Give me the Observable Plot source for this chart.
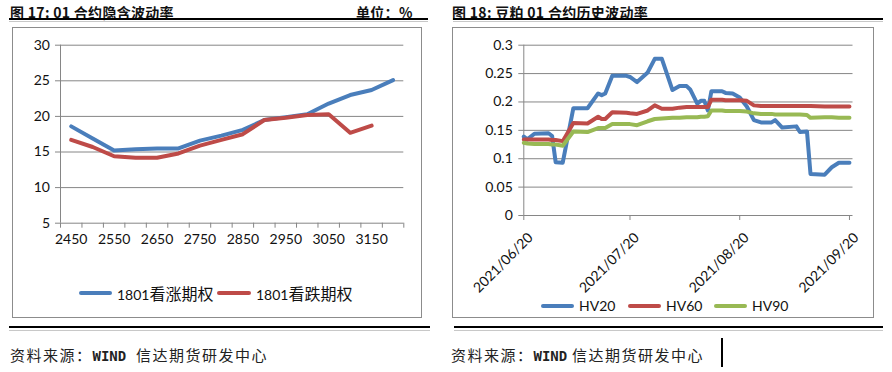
<!DOCTYPE html>
<html><head><meta charset="utf-8">
<script src="https://cdn.jsdelivr.net/npm/d3@7"></script>
<script src="https://cdn.jsdelivr.net/npm/@observablehq/plot@0.6"></script>
<style>
body{margin:0;background:#fff}
#page{position:relative;width:892px;height:372px;overflow:hidden;background:#fff;font-family:"Noto Sans CJK SC",sans-serif;color:#111}
.a{position:absolute;white-space:nowrap}
.title{font-size:14px;font-weight:bold;line-height:16px;top:4px;letter-spacing:0.3px}
.blk{background:#000;height:2px}
.gry{background:#c8c8c8;height:1px}
.box{border:1px solid #8c8c8c;box-sizing:border-box}
.sw{height:4px;border-radius:2px}
.lg{font-family:Lato,"Noto Sans CJK SC",sans-serif;font-size:14px;line-height:20px}
.lg .cj{font-size:16px;font-family:"Noto Sans CJK SC",sans-serif}
.foot{font-size:15px;letter-spacing:1.5px;line-height:20px;top:345px;color:#222}
.foot .m{font-family:"DejaVu Sans Mono",monospace;font-weight:bold;font-size:14px;letter-spacing:0}
</style></head><body>
<div id="page">
  <div class="a title" style="left:10px">图 17: 01 合约隐含波动率</div>
  <div class="a title" style="left:356px">单位：%</div>
  <div class="a blk" style="left:9px;top:18px;width:419px"></div>
  <div class="a gry" style="left:9px;top:21px;width:419px"></div>
  <div class="a box" style="left:12px;top:27px;width:410px;height:291px"></div>

  <div class="a title" style="left:452px">图 18: 豆粕 01 合约历史波动率</div>
  <div class="a blk" style="left:453px;top:18px;width:430px"></div>
  <div class="a gry" style="left:453px;top:21px;width:430px"></div>
  <div class="a box" style="left:452px;top:27px;width:422px;height:291px"></div>

  <div id="left" class="a" style="left:12px;top:27px"></div>
  <div id="right" class="a" style="left:452px;top:27px"></div>

  <div class="a sw" style="left:79px;top:291px;width:33px;background:#4A7EBB"></div>
  <div class="a lg" style="left:117px;top:283px">1801<span class="cj">看涨期权</span></div>
  <div class="a sw" style="left:217px;top:291px;width:34px;background:#BE4B48"></div>
  <div class="a lg" style="left:256px;top:283px">1801<span class="cj">看跌期权</span></div>

  <div class="a sw" style="left:541px;top:304px;width:33px;background:#4A7EBB"></div>
  <div class="a lg" style="left:579px;top:296px">HV20</div>
  <div class="a sw" style="left:628px;top:304px;width:33px;background:#BE4B48"></div>
  <div class="a lg" style="left:666px;top:296px">HV60</div>
  <div class="a sw" style="left:714px;top:304px;width:33px;background:#98B954"></div>
  <div class="a lg" style="left:752px;top:296px">HV90</div>

  <div class="a blk" style="left:9px;top:326px;width:421px"></div>
  <div class="a gry" style="left:9px;top:330px;width:421px"></div>
  <div class="a blk" style="left:454px;top:326px;width:429px"></div>
  <div class="a gry" style="left:454px;top:330px;width:429px"></div>

  <div class="a foot" style="left:10px">资料来源：<span class="m">WIND</span>&nbsp;&nbsp;信达期货研发中心</div>
  <div class="a foot" style="left:451px">资料来源：<span class="m">WIND</span>&nbsp;信达期货研发中心</div>
  <div class="a" style="left:721px;top:338px;width:2px;height:29px;background:#000"></div>
</div>
<script>
// ---- Figure 17 data ----
const strikes = [2450,2500,2550,2600,2650,2700,2750,2800,2850,2900,2950,3000,3050,3100,3150,3200];
const callIV = [18.6,16.9,15.2,15.4,15.5,15.5,16.6,17.3,18.1,19.5,19.9,20.3,21.8,23.0,23.7,25.1];
const putIV  = [16.7,15.7,14.4,14.2,14.2,14.8,15.9,16.7,17.5,19.5,19.8,20.2,20.3,17.7,18.7,null];
const leftYTicks = [5,10,15,20,25,30];
const strikeLabels = [2450,2550,2650,2750,2850,2950,3050,3150];

// ---- Figure 18 data ----
const hvDates = ["2021-06-20","2021-06-21","2021-06-23","2021-06-27","2021-06-28","2021-06-29","2021-07-01","2021-07-04","2021-07-08","2021-07-11","2021-07-12","2021-07-13","2021-07-15","2021-07-19","2021-07-20","2021-07-22","2021-07-25","2021-07-27","2021-07-29","2021-08-01","2021-08-03","2021-08-05","2021-08-06","2021-08-08","2021-08-09","2021-08-10","2021-08-11","2021-08-12","2021-08-15","2021-08-16","2021-08-18","2021-08-20","2021-08-22","2021-08-24","2021-08-26","2021-08-29","2021-08-30","2021-09-01","2021-09-05","2021-09-06","2021-09-08","2021-09-09","2021-09-13","2021-09-15","2021-09-17","2021-09-20"];
const hv20 = [0.139,0.134,0.144,0.145,0.140,0.094,0.093,0.189,0.189,0.215,0.212,0.215,0.246,0.246,0.244,0.235,0.252,0.276,0.276,0.221,0.228,0.228,0.222,0.197,0.202,0.202,0.185,0.219,0.219,0.216,0.215,0.208,0.192,0.168,0.164,0.164,0.168,0.155,0.157,0.147,0.148,0.073,0.072,0.085,0.093,0.093];
const hv60 = [0.134,0.134,0.134,0.134,0.133,0.133,0.131,0.163,0.162,0.174,0.170,0.170,0.182,0.181,0.180,0.179,0.185,0.194,0.188,0.188,0.190,0.191,0.191,0.191,0.191,0.191,0.191,0.204,0.204,0.203,0.203,0.203,0.202,0.194,0.193,0.193,0.193,0.193,0.193,0.193,0.193,0.193,0.192,0.192,0.192,0.192];
const hv90 = [0.128,0.127,0.126,0.126,0.125,0.125,0.123,0.148,0.147,0.154,0.154,0.154,0.161,0.161,0.161,0.159,0.166,0.170,0.171,0.172,0.172,0.173,0.173,0.173,0.174,0.174,0.175,0.185,0.185,0.184,0.184,0.184,0.183,0.180,0.179,0.179,0.178,0.178,0.178,0.178,0.177,0.172,0.173,0.173,0.172,0.172];
const rightYTicks = [0,0.05,0.1,0.15,0.2,0.25,0.3];
const dateTicks = ["2021-06-20","2021-07-20","2021-08-20","2021-09-20"];
const dateDomain = ["2021-06-20","2021-09-21"];

const BLUE="#4A7EBB", RED="#BE4B48", GREEN="#98B954", GRID="#868686";
const font = {fontFamily:"Lato, 'Noto Sans', sans-serif", fontSize:"14px", background:"transparent", overflow:"visible", color:"#111"};

// Left chart
const callPts = callIV.map((v,i)=>({x:i+0.5, y:v})).filter(d=>d.y!=null);
const putPts = putIV.map((v,i)=>({x:i+0.5, y:v})).filter(d=>d.y!=null);
const left = Plot.plot({
  width:410, height:240, marginLeft:48, marginRight:18.7, marginTop:17.7, marginBottom:44.3,
  style:font,
  x:{domain:[0,strikes.length], label:null},
  y:{domain:[5,30], label:null},
  marks:[
    Plot.ruleY(leftYTicks, {stroke:GRID, strokeWidth:1}),
    Plot.ruleX([0], {stroke:GRID}),
    Plot.axisY({ticks:leftYTicks, tickSize:5, tickPadding:5.5, stroke:GRID, fill:"#111", fontSize:14, label:null}),
    Plot.axisX({ticks:d3.range(strikes.length+1), tickSize:5, stroke:GRID, tickFormat:()=>"", label:null}),
    Plot.axisX({ticks:strikeLabels.map(s=>strikes.indexOf(s)+0.5), tickSize:0, tickPadding:11, tickFormat:t=>String(strikes[Math.round(t-0.5)]), fill:"#111", fontSize:14, label:null}),
    Plot.line(callPts, {x:"x", y:"y", stroke:BLUE, strokeWidth:4, strokeLinejoin:"round"}),
    Plot.line(putPts, {x:"x", y:"y", stroke:RED, strokeWidth:4, strokeLinejoin:"round"})
  ]
});
document.getElementById("left").appendChild(left);

// Right chart
const parse = d3.utcParse("%Y-%m-%d");
const hvRows = hvDates.map((d,i)=>({date:parse(d), hv20:hv20[i], hv60:hv60[i], hv90:hv90[i]}));
const tickDates = dateTicks.map(parse);
const right = Plot.plot({
  width:422, height:270, marginLeft:71.3, marginRight:21.5, marginTop:17.7, marginBottom:82,
  style:font,
  x:{type:"utc", domain:dateDomain.map(parse), label:null},
  y:{domain:[0,0.3], label:null},
  marks:[
    Plot.ruleY(rightYTicks, {stroke:GRID, strokeWidth:1}),
    Plot.ruleX([parse(dateDomain[0])], {stroke:GRID}),
    Plot.axisY({ticks:rightYTicks, tickSize:5, tickPadding:6, stroke:GRID, fill:"#111", fontSize:14, tickFormat:d=>String(+d.toFixed(2)), label:null}),
    Plot.axisX({ticks:tickDates, tickSize:5, stroke:GRID, tickFormat:()=>"", label:null}),
    Plot.text(tickDates, {x:d=>d, frameAnchor:"bottom", text:d3.utcFormat("%Y/%m/%d"), rotate:-45, textAnchor:"end", dx:10, dy:23, fontSize:14, fill:"#111"}),
    Plot.line(hvRows, {x:"date", y:"hv20", stroke:BLUE, strokeWidth:4, strokeLinejoin:"round"}),
    Plot.line(hvRows, {x:"date", y:"hv60", stroke:RED, strokeWidth:4, strokeLinejoin:"round"}),
    Plot.line(hvRows, {x:"date", y:"hv90", stroke:GREEN, strokeWidth:4, strokeLinejoin:"round"})
  ]
});
document.getElementById("right").appendChild(right);
</script>
</body></html>
